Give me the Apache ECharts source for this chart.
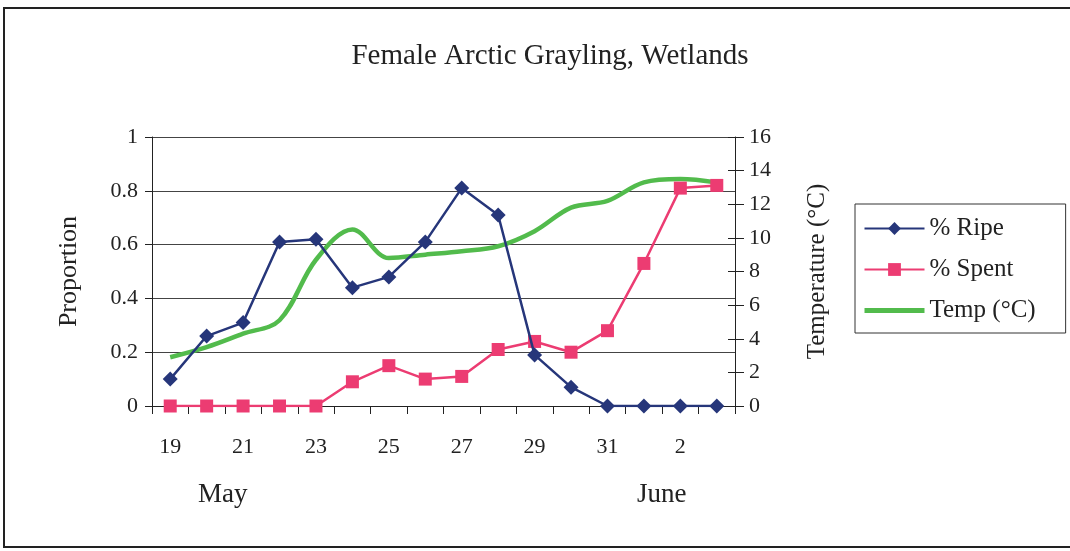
<!DOCTYPE html>
<html>
<head>
<meta charset="utf-8">
<script src="https://cdn.jsdelivr.net/npm/echarts@6/dist/echarts.min.js"></script>
<style>
  html, body { margin: 0; padding: 0; background: #fff; }
  #chart { width: 1070px; height: 551px; }
</style>
</head>
<body>
<div id="chart"></div>
<script>
// days 19 May .. 3 June
var days = ['19', '20', '21', '22', '23', '24', '25', '26', '27', '28', '29', '30', '31', '1', '2', '3'];
var ripe = [0.10, 0.26, 0.31, 0.61, 0.62, 0.44, 0.48, 0.61, 0.81, 0.71, 0.19, 0.07, 0, 0, 0, 0];
var spent = [0, 0, 0, 0, 0, 0.09, 0.15, 0.10, 0.11, 0.21, 0.24, 0.20, 0.28, 0.53, 0.81, 0.82];
var temp = [2.9, 3.5, 4.3, 5.1, 8.7, 10.5, 8.8, 9.0, 9.2, 9.5, 10.4, 11.8, 12.2, 13.3, 13.5, 13.3];

var serif = "'Liberation Serif', 'DejaVu Serif', serif";

var chart = echarts.init(document.getElementById('chart'));

var option = {
  backgroundColor: '#fff',
  animation: false,
  title: {
    text: 'Female Arctic Grayling, Wetlands',
    left: 545,
    top: 37,
    textAlign: 'center',
    textStyle: { fontFamily: serif, fontSize: 29, fontWeight: 'normal', color: '#222' }
  },
  grid: { left: 152, right: 335, top: 137, bottom: 145 },
  legend: {
    orient: 'vertical',
    left: 855,
    top: 204,
    padding: [12, 30, 10, 7],
    borderColor: '#333',
    borderWidth: 1,
    itemWidth: 60,
    itemHeight: 16,
    itemGap: 16,
    textStyle: { fontFamily: serif, fontSize: 25, color: '#222' },
    data: [
      { name: '% Ripe' },
      { name: '% Spent' },
      { name: 'Temp (°C)', itemStyle: { opacity: 0 }, lineStyle: { width: 5 } }
    ]
  },
  xAxis: {
    type: 'category',
    data: days,
    boundaryGap: true,
    axisLine: { lineStyle: { color: '#222', width: 1 } },
    axisTick: { show: true, interval: 0, length: 8, lineStyle: { color: '#222' } },
    axisLabel: { interval: 1, margin: 30, fontFamily: serif, fontSize: 22, color: '#222' },
    splitLine: { show: false }
  },
  yAxis: [
    {
      type: 'value',
      min: 0,
      max: 1,
      interval: 0.2,
      name: 'Proportion',
      nameLocation: 'middle',
      nameGap: 70,
      nameTextStyle: { fontFamily: serif, fontSize: 26, color: '#222' },
      axisLine: { show: true, lineStyle: { color: '#222' } },
      axisTick: { show: true, length: 7, lineStyle: { color: '#222' } },
      axisLabel: { margin: 14, fontFamily: serif, fontSize: 22, color: '#222' },
      splitLine: { show: true, lineStyle: { color: '#444', width: 1.2 } }
    },
    {
      type: 'value',
      min: 0,
      max: 16,
      interval: 2,
      position: 'right',
      name: 'Temperature (°C)',
      nameLocation: 'middle',
      nameGap: 70,
      nameTextStyle: { fontFamily: serif, fontSize: 25, color: '#222' },
      axisLine: { show: true, lineStyle: { color: '#222' } },
      axisTick: { show: true, inside: false, length: 9, lineStyle: { color: '#222' } },
      axisLabel: { margin: 14, fontFamily: serif, fontSize: 22, color: '#222' },
      splitLine: { show: false }
    },
    {
      // inner half of the crossing ticks on the temperature axis
      type: 'value',
      min: 0,
      max: 16,
      interval: 2,
      position: 'right',
      axisLine: { show: false },
      axisTick: { show: true, inside: true, length: 7, lineStyle: { color: '#222' } },
      axisLabel: { show: false },
      splitLine: { show: false }
    }
  ],
  series: [
    {
      name: '% Ripe',
      type: 'line',
      data: ripe,
      yAxisIndex: 0,
      symbol: 'diamond',
      symbolSize: 15,
      itemStyle: { color: '#26367a' },
      lineStyle: { color: '#26367a', width: 2.5 },
      z: 4
    },
    {
      name: '% Spent',
      type: 'line',
      data: spent,
      yAxisIndex: 0,
      symbol: 'rect',
      symbolSize: 13,
      itemStyle: { color: '#ec3c72' },
      lineStyle: { color: '#ec3c72', width: 2.5 },
      z: 3
    },
    {
      name: 'Temp (°C)',
      type: 'line',
      data: temp,
      yAxisIndex: 1,
      symbol: 'none',
      smooth: 0.35,
      itemStyle: { color: '#52bb4c' },
      lineStyle: { color: '#52bb4c', width: 4.5 },
      z: 2
    }
  ],
  graphic: [
    {
      type: 'rect',
      shape: { x: 4, y: 8, width: 1080, height: 539 },
      style: { fill: 'none', stroke: '#222', lineWidth: 2 },
      silent: true
    },
    {
      type: 'text',
      left: 198,
      top: 481,
      style: { text: 'May', font: '27px ' + serif, fill: '#222' }
    },
    {
      type: 'text',
      left: 637,
      top: 481,
      style: { text: 'June', font: '27px ' + serif, fill: '#222' }
    }
  ]
};

chart.setOption(option);
</script>
</body>
</html>
